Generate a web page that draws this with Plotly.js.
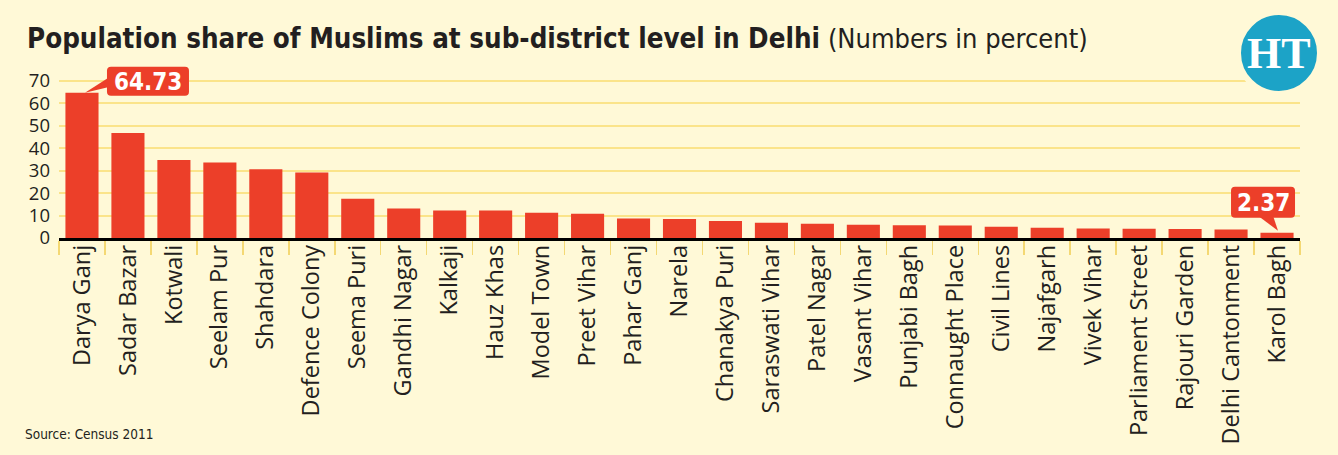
<!DOCTYPE html>
<html>
<head>
<meta charset="utf-8">
<script src="https://cdn.plot.ly/plotly-3.0.1.min.js"></script>
<style>
  html, body { margin: 0; padding: 0; background: #fff9d7; }
  #chart { width: 1338px; height: 455px; }
</style>
</head>
<body>
<div id="chart"></div>
<script>
// Sub-districts of Delhi, ordered by share of Muslim population (Census 2011)
const subDistricts = [
  "Darya Ganj", "Sadar Bazar", "Kotwali", "Seelam Pur", "Shahdara",
  "Defence Colony", "Seema Puri", "Gandhi Nagar", "Kalkaji", "Hauz Khas",
  "Model Town", "Preet Vihar", "Pahar Ganj", "Narela", "Chanakya Puri",
  "Saraswati Vihar", "Patel Nagar", "Vasant Vihar", "Punjabi Bagh",
  "Connaught Place", "Civil Lines", "Najafgarh", "Vivek Vihar",
  "Parliament Street", "Rajouri Garden", "Delhi Cantonment", "Karol Bagh"
];
const muslimShare = [
  64.73, 46.8, 34.8, 33.7, 30.6,
  29.2, 17.5, 13.2, 12.3, 12.3,
  11.3, 10.8, 8.7, 8.5, 7.6,
  6.8, 6.4, 5.9, 5.7,
  5.6, 5.0, 4.6, 4.2,
  4.1, 4.0, 3.8, 2.37
];
const yTicks = [0, 10, 20, 30, 40, 50, 60, 70];

const W = 1338, H = 455;
const M = { l: 59, r: 38, t: 63, b: 217 };
const BG = "#fff9d7";
const RED = "#ec3f29";
const INK = "#231f20";
const GRID = "#fbe48a";
const NARROW = "Liberation Sans Narrow, DejaVu Sans Condensed, Arial Narrow, sans-serif";

const px2paperX = px => (px - M.l) / (W - M.l - M.r);
const px2paperY = py => (H - M.b - py) / (H - M.t - M.b);

// Callouts for the highest and lowest share
const iMax = 0;
const iMin = muslimShare.length - 1;

// rounded rectangle path in pixel offsets (y up) around an anchor point
function roundRect(x0, y0, x1, y1, r) {
  return `M${x0 + r},${y0} L${x1 - r},${y0} Q${x1},${y0} ${x1},${y0 + r} ` +
         `L${x1},${y1 - r} Q${x1},${y1} ${x1 - r},${y1} L${x0 + r},${y1} ` +
         `Q${x0},${y1} ${x0},${y1 - r} L${x0},${y0 + r} Q${x0},${y0} ${x0 + r},${y0} Z`;
}
function anchored(i, path) {
  return {
    type: "path", xref: "x", yref: "y",
    xsizemode: "pixel", ysizemode: "pixel",
    xanchor: subDistricts[i], yanchor: muslimShare[i],
    path: path, fillcolor: RED, line: { width: 0 }, layer: "above"
  };
}

const shapes = [
  anchored(iMax, roundRect(25, -3, 107, 26, 4)),
  anchored(iMax, "M3,0 L28,16 L28,6 Z"),
  anchored(iMin, roundRect(-46, 15, 18, 46, 4)),
  anchored(iMin, "M1,2 L-19,17 L-4,17 Z"),
  // masthead badge
  {
    type: "circle", xref: "paper", yref: "paper",
    x0: px2paperX(1238), x1: px2paperX(1320),
    y0: px2paperY(94), y1: px2paperY(12),
    fillcolor: "#1ca3c7", line: { color: BG, width: 6 }, layer: "above"
  }
];

const annotations = [
  {
    x: subDistricts[iMax], y: muslimShare[iMax], xref: "x", yref: "y",
    text: "<b>" + muslimShare[iMax].toFixed(2) + "</b>", showarrow: false,
    xshift: 66, yshift: 11,
    font: { family: NARROW, size: 24, color: "#ffffff" }
  },
  {
    x: subDistricts[iMin], y: muslimShare[iMin], xref: "x", yref: "y",
    text: "<b>" + muslimShare[iMin].toFixed(2) + "</b>", showarrow: false,
    xshift: -14, yshift: 30,
    font: { family: NARROW, size: 24, color: "#ffffff" }
  },
  {
    xref: "paper", yref: "paper", x: px2paperX(1279), y: px2paperY(53),
    xanchor: "center", yanchor: "middle", showarrow: false,
    text: "<b>HT</b>",
    font: { family: "Liberation Serif, DejaVu Serif, serif", size: 44, color: "#ffffff" }
  },
  {
    xref: "paper", yref: "paper", x: px2paperX(23), y: px2paperY(434),
    xanchor: "left", yanchor: "middle", showarrow: false,
    text: "Source: Census 2011",
    font: { family: NARROW, size: 13.5, color: INK }
  }
];

const trace = {
  type: "bar",
  x: subDistricts,
  y: muslimShare,
  marker: { color: RED, line: { width: 0 } },
  hoverinfo: "x+y"
};

const layout = {
  width: W, height: H,
  margin: M,
  paper_bgcolor: BG, plot_bgcolor: BG,
  bargap: 0.28,
  showlegend: false,
  title: {
    text: "<b>Population share of Muslims at sub-district level in Delhi</b> " +
          "<span style=\"font-weight:normal;font-size:27px\">(Numbers in percent)</span>",
    xref: "container", yref: "container",
    x: 27 / W, xanchor: "left",
    y: 1 - 38 / H, yanchor: "middle",
    font: { family: NARROW, size: 27.5, color: INK }
  },
  xaxis: {
    type: "category",
    range: [-0.5, subDistricts.length - 0.5],
    showgrid: false, zeroline: false,
    showline: true, linecolor: "#000000", linewidth: 2.5,
    ticks: "outside", tickson: "boundaries",
    ticklen: 14, tickwidth: 1.5, tickcolor: "#f4d873",
    tickangle: -90,
    ticklabelstandoff: -5,
    tickfont: { family: "Open Sans, sans-serif", size: 23.5, color: INK },
    fixedrange: true
  },
  yaxis: {
    range: [0, 78],
    tickvals: yTicks,
    ticktext: yTicks.map(String),
    showgrid: true, gridcolor: GRID, gridwidth: 2,
    zeroline: false, showline: false, ticks: "",
    ticklabelstandoff: 8,
    tickfont: { family: "Open Sans, sans-serif", size: 18.5, color: INK },
    fixedrange: true
  },
  shapes: shapes,
  annotations: annotations
};

Plotly.newPlot("chart", [trace], layout, { displayModeBar: false, staticPlot: true });
</script>
</body>
</html>
